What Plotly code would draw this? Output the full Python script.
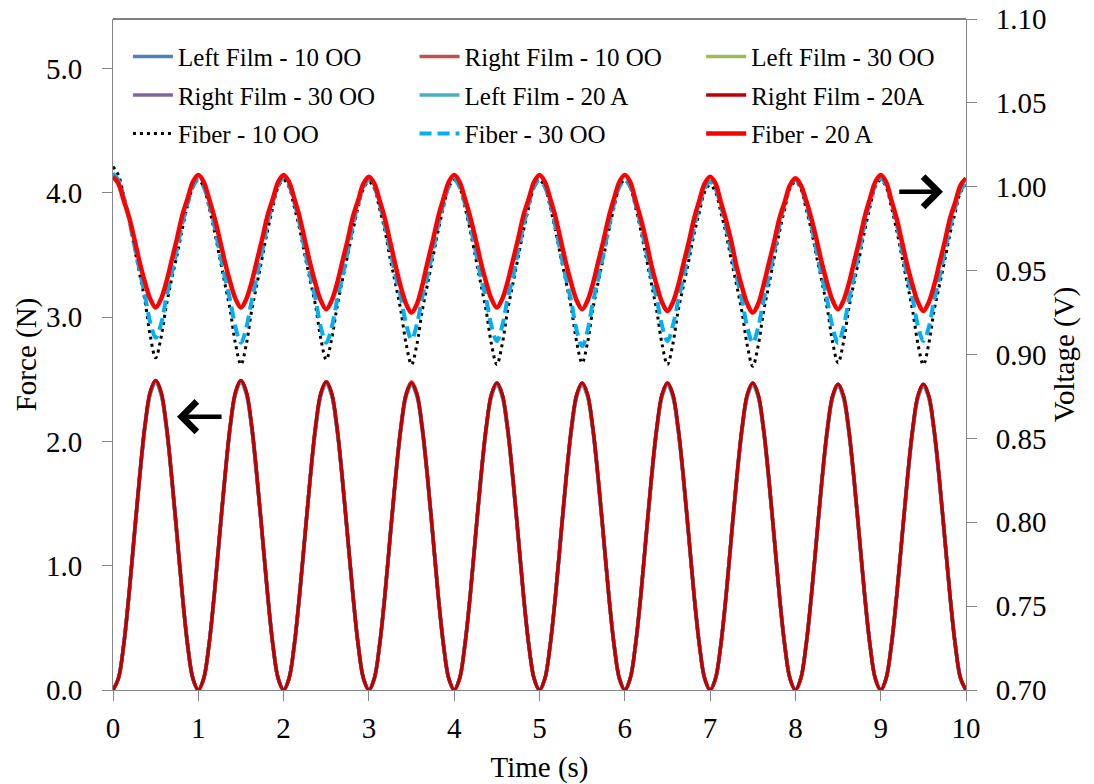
import plotly.graph_objects as go

# Sample times (s), 16 samples per loading cycle
time_s = [i * 0.0625 for i in range(161)]

# Film forces (N), left axis - one row per loading cycle
left_film_10oo = [
    0.00, 0.09, 0.36, 0.77, 1.25, 1.72, 2.13, 2.40, 2.49, 2.40, 2.13, 1.72, 1.25, 0.77, 0.36, 0.09,
    0.00, 0.09, 0.36, 0.77, 1.25, 1.72, 2.13, 2.40, 2.49, 2.40, 2.13, 1.72, 1.25, 0.77, 0.36, 0.09,
    0.00, 0.09, 0.36, 0.77, 1.24, 1.71, 2.12, 2.39, 2.48, 2.39, 2.12, 1.71, 1.24, 0.77, 0.36, 0.09,
    0.00, 0.09, 0.36, 0.76, 1.24, 1.71, 2.11, 2.38, 2.47, 2.38, 2.11, 1.71, 1.24, 0.76, 0.36, 0.09,
    0.00, 0.09, 0.36, 0.76, 1.24, 1.71, 2.11, 2.38, 2.47, 2.38, 2.11, 1.71, 1.24, 0.76, 0.36, 0.09,
    0.00, 0.09, 0.36, 0.76, 1.24, 1.71, 2.11, 2.38, 2.47, 2.38, 2.11, 1.71, 1.24, 0.76, 0.36, 0.09,
    0.00, 0.09, 0.36, 0.76, 1.24, 1.71, 2.11, 2.38, 2.47, 2.38, 2.11, 1.71, 1.24, 0.76, 0.36, 0.09,
    0.00, 0.09, 0.36, 0.76, 1.24, 1.71, 2.11, 2.38, 2.47, 2.38, 2.11, 1.71, 1.24, 0.76, 0.36, 0.09,
    0.00, 0.09, 0.36, 0.76, 1.23, 1.70, 2.10, 2.37, 2.46, 2.37, 2.10, 1.70, 1.23, 0.76, 0.36, 0.09,
    0.00, 0.09, 0.36, 0.76, 1.23, 1.70, 2.10, 2.37, 2.46, 2.37, 2.10, 1.70, 1.23, 0.76, 0.36, 0.09,
    0.00,
]
right_film_10oo = [
    0.00, 0.09, 0.36, 0.77, 1.25, 1.72, 2.13, 2.40, 2.49, 2.40, 2.13, 1.72, 1.25, 0.77, 0.36, 0.09,
    0.00, 0.09, 0.36, 0.77, 1.25, 1.72, 2.13, 2.40, 2.49, 2.40, 2.13, 1.72, 1.25, 0.77, 0.36, 0.09,
    0.00, 0.09, 0.36, 0.77, 1.24, 1.71, 2.12, 2.39, 2.48, 2.39, 2.12, 1.71, 1.24, 0.77, 0.36, 0.09,
    0.00, 0.09, 0.36, 0.77, 1.24, 1.71, 2.12, 2.39, 2.48, 2.39, 2.12, 1.71, 1.24, 0.77, 0.36, 0.09,
    0.00, 0.09, 0.36, 0.76, 1.24, 1.71, 2.11, 2.38, 2.47, 2.38, 2.11, 1.71, 1.24, 0.76, 0.36, 0.09,
    0.00, 0.09, 0.36, 0.76, 1.24, 1.71, 2.11, 2.38, 2.47, 2.38, 2.11, 1.71, 1.24, 0.76, 0.36, 0.09,
    0.00, 0.09, 0.36, 0.76, 1.24, 1.71, 2.11, 2.38, 2.47, 2.38, 2.11, 1.71, 1.24, 0.76, 0.36, 0.09,
    0.00, 0.09, 0.36, 0.76, 1.24, 1.71, 2.11, 2.38, 2.47, 2.38, 2.11, 1.71, 1.24, 0.76, 0.36, 0.09,
    0.00, 0.09, 0.36, 0.76, 1.23, 1.70, 2.10, 2.37, 2.46, 2.37, 2.10, 1.70, 1.23, 0.76, 0.36, 0.09,
    0.00, 0.09, 0.36, 0.76, 1.23, 1.70, 2.10, 2.37, 2.46, 2.37, 2.10, 1.70, 1.23, 0.76, 0.36, 0.09,
    0.00,
]
left_film_30oo = [
    0.00, 0.09, 0.36, 0.77, 1.24, 1.71, 2.12, 2.39, 2.48, 2.39, 2.12, 1.71, 1.24, 0.77, 0.36, 0.09,
    0.00, 0.09, 0.36, 0.77, 1.24, 1.71, 2.12, 2.39, 2.48, 2.39, 2.12, 1.71, 1.24, 0.77, 0.36, 0.09,
    0.00, 0.09, 0.36, 0.76, 1.24, 1.71, 2.11, 2.38, 2.47, 2.38, 2.11, 1.71, 1.24, 0.76, 0.36, 0.09,
    0.00, 0.09, 0.36, 0.76, 1.24, 1.71, 2.11, 2.38, 2.47, 2.38, 2.11, 1.71, 1.24, 0.76, 0.36, 0.09,
    0.00, 0.09, 0.36, 0.76, 1.23, 1.70, 2.10, 2.37, 2.46, 2.37, 2.10, 1.70, 1.23, 0.76, 0.36, 0.09,
    0.00, 0.09, 0.36, 0.76, 1.23, 1.70, 2.10, 2.37, 2.46, 2.37, 2.10, 1.70, 1.23, 0.76, 0.36, 0.09,
    0.00, 0.09, 0.36, 0.76, 1.23, 1.70, 2.10, 2.37, 2.46, 2.37, 2.10, 1.70, 1.23, 0.76, 0.36, 0.09,
    0.00, 0.09, 0.36, 0.76, 1.23, 1.70, 2.10, 2.37, 2.46, 2.37, 2.10, 1.70, 1.23, 0.76, 0.36, 0.09,
    0.00, 0.09, 0.36, 0.76, 1.23, 1.69, 2.09, 2.36, 2.45, 2.36, 2.09, 1.69, 1.23, 0.76, 0.36, 0.09,
    0.00, 0.09, 0.36, 0.76, 1.23, 1.69, 2.09, 2.36, 2.45, 2.36, 2.09, 1.69, 1.23, 0.76, 0.36, 0.09,
    0.00,
]
right_film_30oo = [
    0.00, 0.09, 0.36, 0.77, 1.24, 1.71, 2.12, 2.39, 2.48, 2.39, 2.12, 1.71, 1.24, 0.77, 0.36, 0.09,
    0.00, 0.09, 0.36, 0.77, 1.24, 1.71, 2.12, 2.39, 2.48, 2.39, 2.12, 1.71, 1.24, 0.77, 0.36, 0.09,
    0.00, 0.09, 0.36, 0.76, 1.24, 1.71, 2.11, 2.38, 2.47, 2.38, 2.11, 1.71, 1.24, 0.76, 0.36, 0.09,
    0.00, 0.09, 0.36, 0.76, 1.24, 1.71, 2.11, 2.38, 2.47, 2.38, 2.11, 1.71, 1.24, 0.76, 0.36, 0.09,
    0.00, 0.09, 0.36, 0.76, 1.24, 1.71, 2.11, 2.38, 2.47, 2.38, 2.11, 1.71, 1.24, 0.76, 0.36, 0.09,
    0.00, 0.09, 0.36, 0.76, 1.23, 1.70, 2.10, 2.37, 2.46, 2.37, 2.10, 1.70, 1.23, 0.76, 0.36, 0.09,
    0.00, 0.09, 0.36, 0.76, 1.23, 1.70, 2.10, 2.37, 2.46, 2.37, 2.10, 1.70, 1.23, 0.76, 0.36, 0.09,
    0.00, 0.09, 0.36, 0.76, 1.23, 1.70, 2.10, 2.37, 2.46, 2.37, 2.10, 1.70, 1.23, 0.76, 0.36, 0.09,
    0.00, 0.09, 0.36, 0.76, 1.23, 1.69, 2.09, 2.36, 2.45, 2.36, 2.09, 1.69, 1.23, 0.76, 0.36, 0.09,
    0.00, 0.09, 0.36, 0.76, 1.23, 1.69, 2.09, 2.36, 2.45, 2.36, 2.09, 1.69, 1.23, 0.76, 0.36, 0.09,
    0.00,
]
left_film_20a = [
    0.00, 0.09, 0.36, 0.76, 1.24, 1.71, 2.11, 2.38, 2.47, 2.38, 2.11, 1.71, 1.24, 0.76, 0.36, 0.09,
    0.00, 0.09, 0.36, 0.76, 1.24, 1.71, 2.11, 2.38, 2.47, 2.38, 2.11, 1.71, 1.24, 0.76, 0.36, 0.09,
    0.00, 0.09, 0.36, 0.76, 1.23, 1.70, 2.10, 2.37, 2.46, 2.37, 2.10, 1.70, 1.23, 0.76, 0.36, 0.09,
    0.00, 0.09, 0.36, 0.76, 1.23, 1.69, 2.09, 2.36, 2.45, 2.36, 2.09, 1.69, 1.23, 0.76, 0.36, 0.09,
    0.00, 0.09, 0.36, 0.76, 1.23, 1.69, 2.09, 2.36, 2.45, 2.36, 2.09, 1.69, 1.23, 0.76, 0.36, 0.09,
    0.00, 0.09, 0.36, 0.76, 1.23, 1.69, 2.09, 2.36, 2.45, 2.36, 2.09, 1.69, 1.23, 0.76, 0.36, 0.09,
    0.00, 0.09, 0.36, 0.76, 1.23, 1.69, 2.09, 2.36, 2.45, 2.36, 2.09, 1.69, 1.23, 0.76, 0.36, 0.09,
    0.00, 0.09, 0.36, 0.76, 1.23, 1.69, 2.09, 2.36, 2.45, 2.36, 2.09, 1.69, 1.23, 0.76, 0.36, 0.09,
    0.00, 0.09, 0.36, 0.75, 1.22, 1.69, 2.08, 2.35, 2.44, 2.35, 2.08, 1.69, 1.22, 0.75, 0.36, 0.09,
    0.00, 0.09, 0.36, 0.75, 1.22, 1.69, 2.08, 2.35, 2.44, 2.35, 2.08, 1.69, 1.22, 0.75, 0.36, 0.09,
    0.00,
]
right_film_20a = [
    0.00, 0.09, 0.36, 0.77, 1.25, 1.72, 2.13, 2.40, 2.49, 2.40, 2.13, 1.72, 1.25, 0.77, 0.36, 0.09,
    0.00, 0.09, 0.36, 0.77, 1.25, 1.72, 2.13, 2.40, 2.49, 2.40, 2.13, 1.72, 1.25, 0.77, 0.36, 0.09,
    0.00, 0.09, 0.36, 0.77, 1.24, 1.71, 2.12, 2.39, 2.48, 2.39, 2.12, 1.71, 1.24, 0.77, 0.36, 0.09,
    0.00, 0.09, 0.36, 0.76, 1.24, 1.71, 2.11, 2.38, 2.47, 2.38, 2.11, 1.71, 1.24, 0.76, 0.36, 0.09,
    0.00, 0.09, 0.36, 0.76, 1.24, 1.71, 2.11, 2.38, 2.47, 2.38, 2.11, 1.71, 1.24, 0.76, 0.36, 0.09,
    0.00, 0.09, 0.36, 0.76, 1.24, 1.71, 2.11, 2.38, 2.47, 2.38, 2.11, 1.71, 1.24, 0.76, 0.36, 0.09,
    0.00, 0.09, 0.36, 0.76, 1.24, 1.71, 2.11, 2.38, 2.47, 2.38, 2.11, 1.71, 1.24, 0.76, 0.36, 0.09,
    0.00, 0.09, 0.36, 0.76, 1.24, 1.71, 2.11, 2.38, 2.47, 2.38, 2.11, 1.71, 1.24, 0.76, 0.36, 0.09,
    0.00, 0.09, 0.36, 0.76, 1.23, 1.70, 2.10, 2.37, 2.46, 2.37, 2.10, 1.70, 1.23, 0.76, 0.36, 0.09,
    0.00, 0.09, 0.36, 0.76, 1.23, 1.70, 2.10, 2.37, 2.46, 2.37, 2.10, 1.70, 1.23, 0.76, 0.36, 0.09,
    0.00,
]

# Fiber voltages (V), right axis - one row per loading cycle
fiber_10oo = [
    1.012, 1.007, 0.995, 0.981, 0.964, 0.948, 0.932, 0.911, 0.898, 0.910, 0.929, 0.945, 0.959, 0.975, 0.989, 1.000,
    1.004, 1.000, 0.988, 0.974, 0.958, 0.942, 0.926, 0.906, 0.894, 0.906, 0.926, 0.942, 0.958, 0.974, 0.988, 1.000,
    1.004, 1.000, 0.988, 0.975, 0.959, 0.944, 0.929, 0.909, 0.897, 0.909, 0.928, 0.944, 0.959, 0.974, 0.988, 0.999,
    1.003, 0.999, 0.987, 0.974, 0.957, 0.942, 0.926, 0.906, 0.894, 0.906, 0.926, 0.942, 0.958, 0.974, 0.988, 1.000,
    1.004, 1.000, 0.988, 0.974, 0.958, 0.942, 0.926, 0.906, 0.894, 0.906, 0.926, 0.942, 0.958, 0.974, 0.988, 1.000,
    1.004, 1.000, 0.988, 0.974, 0.958, 0.943, 0.927, 0.907, 0.895, 0.907, 0.927, 0.943, 0.958, 0.974, 0.988, 1.000,
    1.004, 1.000, 0.988, 0.974, 0.958, 0.942, 0.926, 0.906, 0.894, 0.906, 0.926, 0.941, 0.956, 0.972, 0.985, 0.997,
    1.001, 0.997, 0.985, 0.972, 0.956, 0.941, 0.925, 0.905, 0.893, 0.905, 0.925, 0.941, 0.957, 0.973, 0.987, 0.999,
    1.003, 0.999, 0.987, 0.974, 0.958, 0.943, 0.927, 0.907, 0.895, 0.907, 0.927, 0.943, 0.958, 0.974, 0.988, 1.000,
    1.004, 1.000, 0.988, 0.974, 0.958, 0.942, 0.926, 0.906, 0.894, 0.906, 0.926, 0.941, 0.956, 0.972, 0.985, 0.997,
    1.001,
]
fiber_30oo = [
    1.008, 1.004, 0.994, 0.981, 0.965, 0.950, 0.935, 0.919, 0.910, 0.918, 0.934, 0.948, 0.963, 0.978, 0.990, 1.000,
    1.004, 1.000, 0.990, 0.977, 0.961, 0.946, 0.932, 0.916, 0.907, 0.916, 0.932, 0.947, 0.962, 0.978, 0.991, 1.001,
    1.005, 1.001, 0.991, 0.978, 0.962, 0.947, 0.933, 0.916, 0.907, 0.916, 0.932, 0.946, 0.961, 0.977, 0.990, 1.000,
    1.004, 1.000, 0.990, 0.977, 0.962, 0.947, 0.934, 0.918, 0.909, 0.918, 0.934, 0.947, 0.962, 0.977, 0.990, 1.000,
    1.004, 1.000, 0.990, 0.977, 0.962, 0.946, 0.933, 0.917, 0.908, 0.917, 0.933, 0.946, 0.962, 0.977, 0.990, 1.000,
    1.004, 1.000, 0.990, 0.976, 0.960, 0.945, 0.931, 0.914, 0.905, 0.914, 0.931, 0.945, 0.960, 0.976, 0.990, 1.000,
    1.004, 1.000, 0.990, 0.977, 0.962, 0.946, 0.933, 0.917, 0.908, 0.917, 0.932, 0.946, 0.961, 0.976, 0.989, 0.999,
    1.003, 0.999, 0.989, 0.976, 0.961, 0.946, 0.932, 0.916, 0.907, 0.916, 0.932, 0.946, 0.961, 0.977, 0.990, 1.000,
    1.004, 1.000, 0.990, 0.977, 0.961, 0.946, 0.932, 0.916, 0.907, 0.916, 0.932, 0.947, 0.962, 0.978, 0.991, 1.001,
    1.005, 1.001, 0.991, 0.978, 0.962, 0.947, 0.933, 0.917, 0.908, 0.916, 0.932, 0.946, 0.961, 0.976, 0.988, 0.998,
    1.002,
]
fiber_20a = [
    1.006, 1.002, 0.992, 0.982, 0.969, 0.955, 0.943, 0.933, 0.928, 0.933, 0.943, 0.956, 0.969, 0.983, 0.993, 1.003,
    1.007, 1.003, 0.993, 0.982, 0.969, 0.955, 0.943, 0.933, 0.928, 0.933, 0.943, 0.956, 0.969, 0.983, 0.993, 1.003,
    1.007, 1.003, 0.993, 0.982, 0.968, 0.954, 0.942, 0.932, 0.927, 0.932, 0.942, 0.955, 0.968, 0.982, 0.992, 1.002,
    1.006, 1.002, 0.992, 0.981, 0.967, 0.953, 0.940, 0.930, 0.925, 0.930, 0.941, 0.955, 0.968, 0.982, 0.993, 1.003,
    1.007, 1.003, 0.993, 0.982, 0.969, 0.955, 0.943, 0.933, 0.928, 0.933, 0.943, 0.956, 0.969, 0.983, 0.993, 1.003,
    1.007, 1.003, 0.993, 0.982, 0.968, 0.954, 0.942, 0.932, 0.927, 0.932, 0.942, 0.955, 0.968, 0.982, 0.993, 1.003,
    1.007, 1.003, 0.992, 0.981, 0.968, 0.953, 0.941, 0.931, 0.926, 0.931, 0.941, 0.954, 0.967, 0.981, 0.992, 1.002,
    1.006, 1.002, 0.991, 0.980, 0.967, 0.952, 0.940, 0.930, 0.925, 0.930, 0.941, 0.954, 0.967, 0.981, 0.991, 1.001,
    1.005, 1.001, 0.992, 0.981, 0.968, 0.954, 0.942, 0.932, 0.927, 0.932, 0.942, 0.955, 0.968, 0.982, 0.993, 1.003,
    1.007, 1.003, 0.992, 0.981, 0.967, 0.953, 0.941, 0.931, 0.926, 0.931, 0.941, 0.954, 0.967, 0.981, 0.991, 1.001,
    1.005,
]

FONT = "Liberation Serif"
AXIS_GRAY = "#868686"

# (name, values, colour, width, dash, y axis, legend column)
series = [
    ("Left Film - 10 OO", left_film_10oo, "#4F81BD", 3.5, "solid", "y", "legend"),
    ("Right Film - 10 OO", right_film_10oo, "#C0504D", 3.5, "solid", "y", "legend2"),
    ("Left Film - 30 OO", left_film_30oo, "#9BBB59", 3.5, "solid", "y", "legend3"),
    ("Right Film - 30 OO", right_film_30oo, "#8064A2", 3.5, "solid", "y", "legend"),
    ("Left Film - 20 A", left_film_20a, "#4BACC6", 3.5, "solid", "y", "legend2"),
    ("Right Film - 20A", right_film_20a, "#C00000", 3.5, "solid", "y", "legend3"),
    ("Fiber - 10 OO", fiber_10oo, "#000000", 3, "3px,4px", "y2", "legend"),
    ("Fiber - 30 OO", fiber_30oo, "#00B0F0", 4, "12px,6px", "y2", "legend2"),
    ("Fiber - 20 A", fiber_20a, "#FF0000", 4.5, "solid", "y2", "legend3"),
]

fig = go.Figure()
for name, vals, color, width, dash, yax, leg in series:
    fig.add_trace(go.Scatter(
        x=time_s, y=vals, name=name, mode="lines", yaxis=yax,
        legend=leg, legendgroup=name,
        line=dict(color=color, width=width, dash=dash, shape="spline", smoothing=1.0),
    ))

legend_common = dict(
    orientation="v", xanchor="left", yanchor="top", y=0.978,
    bgcolor="rgba(0,0,0,0)", borderwidth=0, itemwidth=40, tracegroupgap=3,
    font=dict(family=FONT, size=25, color="#000000"),
)

axis_common = dict(
    ticks="outside", ticklen=10, tickcolor=AXIS_GRAY, tickwidth=1,
    showline=True, linecolor=AXIS_GRAY, linewidth=1, showgrid=False, zeroline=False,
    automargin=False, tickfont=dict(family=FONT, size=29),
)

fig.update_layout(
    width=1094, height=784,
    margin=dict(l=113, r=128, t=19, b=94, autoexpand=False),
    paper_bgcolor="white", plot_bgcolor="white",
    font=dict(family=FONT, color="#000000"),
    showlegend=True,
    legend=dict(x=0.0175, **legend_common),
    legend2=dict(x=0.3535, **legend_common),
    legend3=dict(x=0.6895, **legend_common),
    xaxis=dict(
        range=[0, 10], tickmode="array", tickvals=list(range(11)),
        ticklabelstandoff=2,
        title=dict(text="Time (s)", font=dict(family=FONT, size=29), standoff=14),
        **axis_common,
    ),
    yaxis=dict(
        range=[0, 5.4], tickmode="array", tickvals=[0, 1, 2, 3, 4, 5], tickformat=".1f",
        ticklabelstandoff=14,
        title=dict(text="Force (N)", font=dict(family=FONT, size=29), standoff=0),
        **axis_common,
    ),
    yaxis2=dict(
        range=[0.70, 1.10], overlaying="y", side="right",
        tickmode="array", tickvals=[0.70, 0.75, 0.80, 0.85, 0.90, 0.95, 1.00, 1.05, 1.10],
        tickformat=".2f", ticklabelstandoff=13,
        title=dict(text="Voltage (V)", font=dict(family=FONT, size=29), standoff=8),
        **axis_common,
    ),
    shapes=[
        dict(type="line", xref="paper", yref="paper", x0=0, x1=1, y0=1, y1=1,
             line=dict(color="#000000", width=1)),
    ],
    annotations=[
        # arrow pointing at the voltage axis
        dict(x=9.73, y=0.997, xref="x", yref="y2", ax=9.20, ay=0.997, axref="x", ayref="y2",
             text="", showarrow=True, arrowhead=4, arrowsize=1.3, arrowwidth=4.5,
             arrowcolor="#000000"),
        # arrow pointing at the force axis
        dict(x=0.75, y=2.2, xref="x", yref="y", ax=1.29, ay=2.2, axref="x", ayref="y",
             text="", showarrow=True, arrowhead=4, arrowsize=1.3, arrowwidth=4.5,
             arrowcolor="#000000"),
    ],
)

fig.write_html("out.html")
